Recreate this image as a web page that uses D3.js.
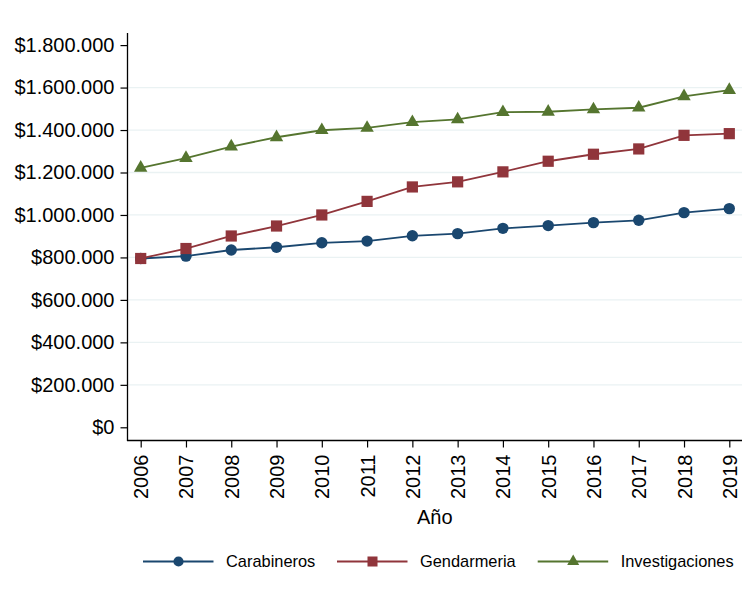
<!DOCTYPE html>
<html><head><meta charset="utf-8">
<script src="https://cdn.jsdelivr.net/npm/d3@7"></script>
<style>body{margin:0;background:#fff}svg{display:block}text{font-family:"Liberation Sans",Arial,sans-serif}</style>
</head><body>
<svg id="c" width="749" height="601"></svg>
<script>
const years = [2006,2007,2008,2009,2010,2011,2012,2013,2014,2015,2016,2017,2018,2019];
const carabineros = [795000,806000,835000,848000,869000,877000,902000,912000,937000,950000,964000,975000,1011000,1030000];
const gendarmeria = [795000,842000,901000,948000,1000000,1064000,1132000,1156000,1203000,1253000,1286000,1311000,1375000,1383000];
const investigaciones = [1222000,1268000,1322000,1366000,1399000,1410000,1437000,1450000,1484000,1486000,1497000,1505000,1559000,1588000];
const yTicks = [0,200000,400000,600000,800000,1000000,1200000,1400000,1600000,1800000];
const seriesNames = ["Carabineros","Gendarmeria","Investigaciones"];
const seriesColors = ["#1a476f","#90353b","#55752f"];
const seriesSymbols = ["circle","square","triangle"];
const xTitle = "Año";

const series = [carabineros, gendarmeria, investigaciones];
const svg = d3.select("#c");
const locale = d3.formatLocale({decimal:",", thousands:".", grouping:[3], currency:["$",""]});
const fmt = locale.format("$,");

const x = d3.scaleLinear().domain([2006,2019]).range([140.7,729.3]);
const y = d3.scaleLinear().domain([0,1800000]).range([427.3,45.1]);
const xLeft = 127.5, xRight = 742, yTop = 33, yBot = 440.5;

// gridlines
svg.append("g").selectAll("line").data(yTicks.filter(d=>d>0 && d<1800000)).join("line")
  .attr("x1",xLeft+1).attr("x2",xRight).attr("y1",d=>y(d)).attr("y2",d=>y(d))
  .attr("stroke","#eaf2f3").attr("stroke-width",1.3);

// y axis
const yAxis = d3.axisLeft(y).tickValues(yTicks).tickFormat(fmt).tickSize(7).tickPadding(6);
const gy = svg.append("g").attr("transform",`translate(${xLeft},0)`).call(yAxis);
gy.select(".domain").remove();
gy.append("line").attr("x1",0).attr("x2",0).attr("y1",yTop).attr("y2",yBot+0.5).attr("stroke","#000").attr("stroke-width",1.3);
gy.selectAll(".tick line").attr("stroke","#000").attr("stroke-width",1.2);
gy.selectAll(".tick text").attr("font-size",20).attr("fill","#000").attr("font-family","Liberation Sans, Arial, sans-serif");

// x axis
const xAxis = d3.axisBottom(x).tickValues(years).tickFormat(d3.format("d")).tickSize(7).tickPadding(6);
const gx = svg.append("g").attr("transform",`translate(0,${yBot})`).call(xAxis);
gx.select(".domain").remove();
gx.append("line").attr("x1",xLeft-0.5).attr("x2",xRight).attr("y1",0).attr("y2",0).attr("stroke","#000").attr("stroke-width",1.3);
gx.selectAll(".tick line").attr("stroke","#000").attr("stroke-width",1.2);
gx.selectAll(".tick text").attr("font-size",20).attr("fill","#000").attr("font-family","Liberation Sans, Arial, sans-serif")
  .attr("transform","rotate(-90)").attr("text-anchor","end").attr("x",-14).attr("y",0).attr("dy","0.35em");

svg.append("text").attr("x",(xLeft+xRight)/2).attr("y",524).attr("text-anchor","middle").attr("font-size",20).attr("fill","#000").text(xTitle);

function sym(type, s){
  s = s || 1;
  if(type==="circle") return d3.symbol(d3.symbolCircle, Math.PI*5.7*5.7*s)();
  if(type==="square") return d3.symbol(d3.symbolSquare, 11.2*11.2*s)();
  return d3.symbol(d3.symbolTriangle, 78*s)();
}

const line = d3.line().x((d,i)=>x(years[i])).y(d=>y(d));
series.forEach((s,k)=>{
  const g = svg.append("g");
  g.append("path").datum(s).attr("d",line).attr("fill","none").attr("stroke",seriesColors[k]).attr("stroke-width",1.8);
  g.selectAll("path.m").data(s).join("path").attr("class","m")
    .attr("transform",(d,i)=>`translate(${x(years[i])},${y(d)})`)
    .attr("d",sym(seriesSymbols[k])).attr("fill",seriesColors[k]);
});

// legend
const legX = [143,337,537.7];
const legY = 561.5;
seriesNames.forEach((n,k)=>{
  const g = svg.append("g").attr("transform",`translate(${legX[k]},${legY})`);
  g.append("line").attr("x1",0).attr("x2",70.5).attr("y1",0).attr("y2",0).attr("stroke",seriesColors[k]).attr("stroke-width",1.8);
  g.append("path").attr("transform","translate(35.5,0)").attr("d",sym(seriesSymbols[k],0.8)).attr("fill",seriesColors[k]);
  g.append("text").attr("x",83).attr("y",0).attr("dy","0.35em").attr("font-size",16.4).attr("fill","#000").text(n);
});
</script>
</body></html>
